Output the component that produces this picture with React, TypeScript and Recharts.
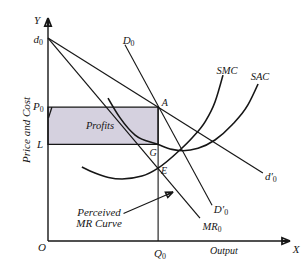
import React from 'react';
import { ComposedChart, Line, XAxis, YAxis, ReferenceArea, ReferenceDot } from 'recharts';

// Key values (output on x, price/cost on y, both 0..100)
const Q0 = 45.5;
const P0 = 60;
const LCOST = 43.3;

const yAxisPts = [{ x: 0, y: 0 }, { x: 0, y: 100 }];
const xAxisPts = [{ x: 0, y: 0 }, { x: 100, y: 0 }];
const perceivedDemand = [{ x: 0, y: 91 }, { x: 88.8, y: 30.5 }]; // d0 d'0
const shareDemand = [{ x: 31.8, y: 88 }, { x: 67.8, y: 16 }]; // D0 D'0
const mr0 = [{ x: 0, y: 91 }, { x: 62.8, y: 10.3 }];
const smc = [
  { x: 14.0, y: 33.2 },
  { x: 19.4, y: 30.5 },
  { x: 25.0, y: 28.5 },
  { x: 30.6, y: 27.8 },
  { x: 38.8, y: 29.1 },
  { x: 45.5, y: 32.7 },
  { x: 54.5, y: 40.8 },
  { x: 59.5, y: 46.2 },
  { x: 64.9, y: 53.4 },
  { x: 69.0, y: 62.3 },
  { x: 72.3, y: 74.4 },
];
const sac = [
  { x: 24.8, y: 64.1 },
  { x: 29.8, y: 55.2 },
  { x: 36.0, y: 47.5 },
  { x: 45.5, y: 43.3 },
  { x: 51.2, y: 41.1 },
  { x: 55.8, y: 40.5 },
  { x: 62.0, y: 41.6 },
  { x: 69.0, y: 45.3 },
  { x: 76.0, y: 52.0 },
  { x: 82.6, y: 61.0 },
  { x: 86.8, y: 70.4 },
];
const q0Line = [{ x: Q0, y: 0 }, { x: Q0, y: P0 }];
const pointerPts = [{ x: 31.2, y: 12.3 }, { x: 51.7, y: 22.0 }];
const tickMark = [{ x: 1.6, y: 60 }, { x: 0.2, y: 55.2 }];

// arrowheads (closed triangles + centre stroke so they read as filled)
const yArrow = [
  { x: 0, y: 100 }, { x: -1.3, y: 96.4 }, { x: 1.3, y: 96.4 }, { x: 0, y: 100 }, { x: 0, y: 96.4 },
];
const xArrow = [
  { x: 100, y: 0 }, { x: 96.7, y: 1.45 }, { x: 96.7, y: -1.45 }, { x: 100, y: 0 }, { x: 96.7, y: 0 },
];
const pointerArrow = [
  { x: 51.7, y: 22.0 }, { x: 49.5, y: 19.5 }, { x: 48.5, y: 21.9 }, { x: 51.7, y: 22.0 }, { x: 49.0, y: 20.7 },
];

const INK = '#161616';
const FONT = '"Liberation Serif", "DejaVu Serif", serif';

const lbl = (key: string, x: number, y: number, main: string, sub?: string, opts: any = {}) => (
  <ReferenceDot
    key={key}
    x={x}
    y={y}
    r={1}
    ifOverflow="visible"
    isFront
    shape={(p: any) => (
      <text
        x={p.cx}
        y={p.cy}
        textAnchor="middle"
        dominantBaseline="central"
        fontFamily={FONT}
        fontStyle="italic"
        fontSize={opts.size || 11}
        fill={INK}
        transform={opts.rotate ? `rotate(${opts.rotate}, ${p.cx}, ${p.cy})` : undefined}
      >
        {main}
        {sub !== undefined && (
          <tspan fontSize={(opts.size || 11) * 0.72} dy={3} fontStyle="normal">
            {sub}
          </tspan>
        )}
      </text>
    )}
  />
);

const seg = (key: string, data: any[], w: number, type: any = 'linear') => (
  <Line
    key={key}
    data={data}
    dataKey="y"
    type={type}
    stroke={INK}
    strokeWidth={w}
    strokeLinejoin="miter"
    dot={false}
    activeDot={false}
    isAnimationActive={false}
  />
);

export default function App() {
  return (
    <div style={{ position: 'absolute', left: 0, top: 0, width: 307, height: 266, background: '#fff' }}>
      <ComposedChart width={307} height={266} margin={{ top: 18, right: 17, bottom: 20.54, left: 43.16 }}>
        <XAxis type="number" dataKey="x" domain={[-2, 100]} hide />
        <YAxis type="number" dataKey="y" domain={[-2, 100]} hide />
        <ReferenceArea x1={0} x2={Q0} y1={LCOST} y2={P0} fill="#d5d1df" fillOpacity={1} stroke={INK} strokeWidth={1.3} />
        {seg('yaxis', yAxisPts, 1.4)}
        {seg('xaxis', xAxisPts, 1.4)}
        {seg('q0', q0Line, 1.1)}
        {seg('dd', perceivedDemand, 1.2)}
        {seg('DD', shareDemand, 1.1)}
        {seg('mr', mr0, 1.2)}
        {seg('smc', smc, 1.6, 'monotone')}
        {seg('sac', sac, 1.6, 'monotone')}
        {seg('ptr', pointerPts, 1.1)}
        {seg('tick', tickMark, 1.3)}
        {seg('ya', yArrow, 1.8)}
        {seg('xa', xArrow, 1.8)}
        {seg('pa', pointerArrow, 1.5)}
        {lbl('Y', -4.5, 99.1, 'Y')}
        {lbl('d0', -4.0, 90.6, 'd', '0')}
        {lbl('P0', -4.0, 60.6, 'P', '0')}
        {lbl('L', -3.3, 43.5, 'L')}
        {lbl('O', -2.5, -2.7, 'O')}
        {lbl('pc', -9.1, 49.8, 'Price and Cost', undefined, { rotate: -90 })}
        {lbl('profits', 21.5, 52.0, 'Profits', undefined, { size: 10.5 })}
        {lbl('A', 48.3, 62.2, 'A', undefined, { size: 10 })}
        {lbl('G', 43.4, 39.9, 'G', undefined, { size: 10 })}
        {lbl('E', 48.0, 31.6, 'E', undefined, { size: 10 })}
        {lbl('D0', 33.3, 90.2, 'D', '0')}
        {lbl('SMC', 74.0, 76.4, 'SMC', undefined, { size: 10.5 })}
        {lbl('SAC', 87.6, 73.6, 'SAC', undefined, { size: 10.5 })}
        {lbl('dp0', 92.1, 29.0, 'd′', '0')}
        {lbl('Dp0', 71.5, 14.2, 'D′', '0')}
        {lbl('MR0', 67.8, 6.6, 'MR', '0', { size: 10.5 })}
        {lbl('perc', 21.1, 13.0, 'Perceived', undefined, { size: 11 })}
        {lbl('mrc', 21.1, 8.1, 'MR Curve', undefined, { size: 11 })}
        {lbl('Q0', 46.3, -5.5, 'Q', '0')}
        {lbl('out', 72.7, -4.3, 'Output', undefined, { size: 10 })}
        {lbl('X', 102.5, -3.8, 'X')}
      </ComposedChart>
    </div>
  );
}
